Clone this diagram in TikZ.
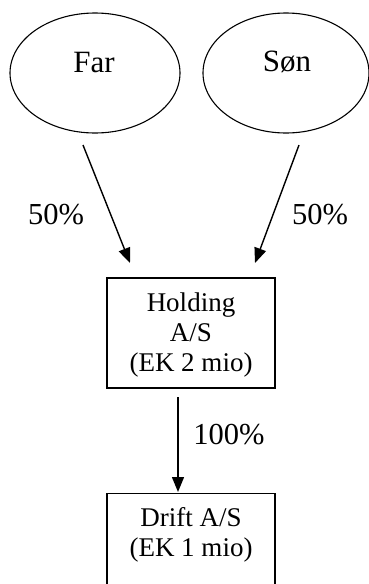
\documentclass[tikz,border=0pt]{standalone}
\usepackage{fontspec}
\setmainfont{Liberation Serif}
\usetikzlibrary{arrows.meta,shapes.geometric}
\begin{document}
\begin{tikzpicture}[x=1pt,y=-1pt,
  owner/.style={draw, line width=1.1pt, ellipse, minimum width=170pt, minimum height=120pt, inner sep=0pt},
  ownertext/.style={font=\fontsize{31}{35}\selectfont, inner sep=0pt},
  box/.style={draw, line width=1.4pt, minimum width=168pt, inner sep=0pt},
  boxtext/.style={font=\fontsize{27}{30}\selectfont, align=center, inner sep=0pt},
  pct/.style={font=\fontsize{30.5}{34}\selectfont, inner sep=0pt},
  conn/.style={line width=1.4pt, -{Triangle[length=15pt,width=12pt]}}]
\useasboundingbox (0,0) rectangle (369,584);
\clip (0,0) rectangle (369,584);
% owners
\node[owner] (far) at (95,73) {};
\node[ownertext] (fartext) at (94,62) {Far};
\node[owner, minimum width=166pt] (son) at (286,73) {};
\node[ownertext] (sontext) at (287,62) {Søn};
% holding
\node[box, minimum height=110pt] (holding) at (191,333) {};
\node[boxtext] (holdingtext) at (191,335) {Holding\\A/S\\(EK 2 mio)};
% drift
\node[box, minimum height=100pt, anchor=north] (drift) at (191,493) {};
\node[boxtext] (drifttext) at (191,535) {Drift A/S\\(EK 1 mio)};
% connector end points
\coordinate (farout) at (83,145);
\coordinate (holdinL) at (130,263);
\coordinate (sonout) at (299,145);
\coordinate (holdinR) at (255,263);
\coordinate (holdout) at (178,397);
\coordinate (driftin) at (178,492);
\draw[conn] (farout) -- (holdinL);
\draw[conn] (sonout) -- (holdinR);
\draw[conn] (holdout) -- (driftin);
% labels
\node[pct] (pctL) at (56,215) {50\%};
\node[pct] (pctR) at (320,215) {50\%};
\node[pct] (pctD) at (229,435) {100\%};
\end{tikzpicture}
\end{document}
